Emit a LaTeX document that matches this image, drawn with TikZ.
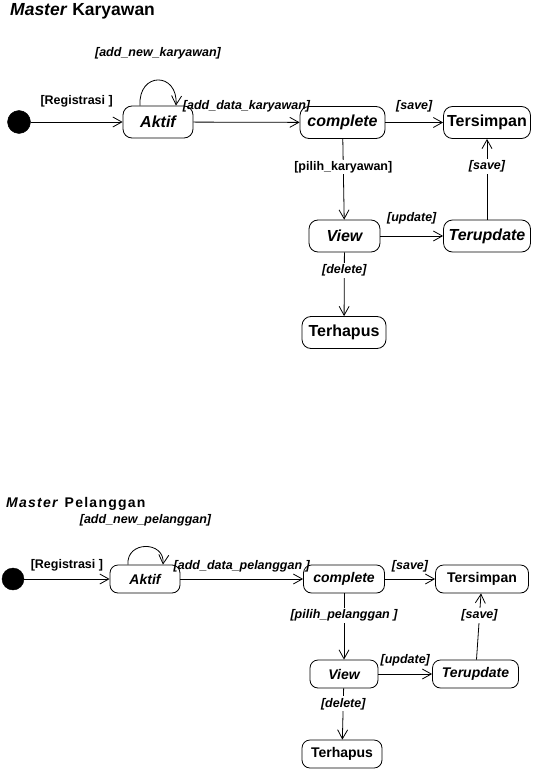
\documentclass[tikz,border=0pt]{standalone}
\usepackage{fontspec}
\setmainfont{Liberation Sans}
\newfontfamily\spacedfont[LetterSpace=9]{Liberation Sans}
\usetikzlibrary{arrows.meta, positioning}
\tikzstyle{statebox} = [rectangle, rounded corners=9pt, minimum height=32pt, inner sep=0pt, text centered, draw=black, line width=0.8pt, font=\fontsize{16}{18}\selectfont\bfseries]
\tikzstyle{statesmall} = [statebox, minimum height=28pt, rounded corners=8pt, font=\fontsize{14}{16}\selectfont\bfseries]
\tikzstyle{startdot} = [circle, fill=black, draw=black, inner sep=0pt]
\tikzstyle{guard} = [inner sep=0pt, font=\fontsize{12.5}{14}\selectfont\bfseries\itshape]
\tikzstyle{guardup} = [guard, font=\fontsize{12.5}{14}\selectfont\bfseries]
\tikzstyle{onwire} = [fill=white, inner sep=1.5pt]
\tikzstyle{arrow} = [line width=0.8pt, ->, >={Straight Barb[length=9pt,width=10pt]}]

\begin{document}
\begin{tikzpicture}[x=1pt, y=-1pt]
      \useasboundingbox (0,0) rectangle (538,770);

      % Master Karyawan
      \node (title1) [anchor=base west, inner sep=0pt, font=\fontsize{17.5}{20}\selectfont\bfseries] at (10,16) {\textit{Master} Karyawan};

      \node (start1)      [startdot, minimum size=23pt]          at (19,122)    {};
      \node (aktif1)      [statebox, minimum width=70pt]         at (158,122)   {\itshape Aktif};
      \node (complete1)   [statebox, minimum width=85pt]         at (342.5,122.5) {\itshape complete};
      \node (tersimpan1)  [statebox, minimum width=87pt]         at (487,122.5) {Tersimpan};
      \node (view1)       [statebox, minimum width=71pt]         at (344.5,236) {\itshape View};
      \node (terupdate1)  [statebox, minimum width=87pt]         at (487,236)   {\itshape Terupdate};
      \node (terhapus1)   [statebox, minimum width=84pt]         at (344,332.5) {Terhapus};

      \draw [arrow] (start1)     -- node[guardup, above=14pt] {[Registrasi ]}        (aktif1);
      \draw [arrow] ([xshift=-18pt]aktif1.north) .. controls +(-2,-34) and +(2,-34) .. node[guard, above=21pt] {[add\_new\_karyawan]} ([xshift=18pt]aktif1.north);
      \draw [arrow] (aktif1)     -- node[guard, above=10pt] {[add\_data\_karyawan]} (complete1);
      \draw [arrow] (complete1)  -- node[guard, above=10pt] {[save]}              (tersimpan1);
      \draw [arrow] (complete1)  -- node[guardup, onwire, pos=0.35] {[pilih\_karyawan]} (view1);
      \draw [arrow] (view1)      -- node[guard, above=12pt] {[update]}            (terupdate1);
      \draw [arrow] (terupdate1) -- node[guard, onwire, pos=0.66] {[save]}        (tersimpan1);
      \draw [arrow] (view1)      -- node[guard, onwire, pos=0.28] {[delete]}      (terhapus1);

      % Master Pelanggan
      \node (title2) [anchor=base west, inner sep=0pt, font=\fontsize{14}{16}\spacedfont\bfseries] at (6,507) {\textit{Master} Pelanggan};

      \node (start2)      [startdot, minimum size=22pt]          at (13,579)    {};
      \node (aktif2)      [statesmall, minimum width=70pt]       at (145,579)   {\itshape Aktif};
      \node (complete2)   [statesmall, minimum width=81pt]       at (344,579)   {\itshape complete};
      \node (tersimpan2)  [statesmall, minimum width=93pt]       at (482,579)   {Tersimpan};
      \node (view2)       [statesmall, minimum width=68pt]       at (344,674)   {\itshape View};
      \node (terupdate2)  [statesmall, minimum width=86pt]       at (475.5,674) {\itshape Terupdate};
      \node (terhapus2)   [statesmall, minimum width=80pt]       at (342,754)   {Terhapus};

      \draw [arrow] (start2)     -- node[guardup, above=7pt] {[Registrasi ]}         (aktif2);
      \draw [arrow] ([xshift=-17pt]aktif2.north) .. controls +(-2,-24) and +(2,-24) .. node[guard, above=20pt] {[add\_new\_pelanggan]} ([xshift=18pt]aktif2.north);
      \draw [arrow] (aktif2)     -- node[guard, above=7pt] {[add\_data\_pelanggan ]} (complete2);
      \draw [arrow] (complete2)  -- node[guard, above=7pt] {[save]}               (tersimpan2);
      \draw [arrow] (complete2)  -- node[guard, onwire, pos=0.33] {[pilih\_pelanggan ]} (view2);
      \draw [arrow] (view2)      -- node[guard, above=8pt] {[update]}             (terupdate2);
      \draw [arrow] (terupdate2) -- node[guard, onwire, pos=0.67] {[save]}         (tersimpan2);
      \draw [arrow] (view2)      -- node[guard, onwire, pos=0.3] {[delete]}        (terhapus2);
\end{tikzpicture}
\end{document}
